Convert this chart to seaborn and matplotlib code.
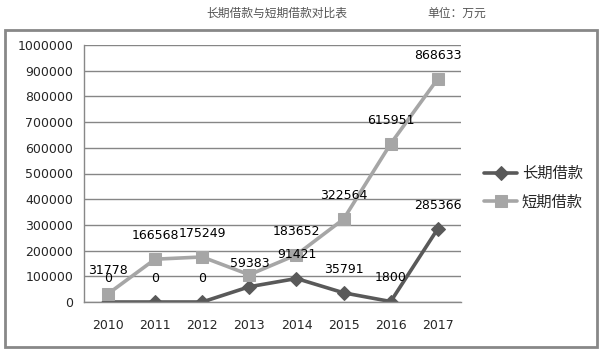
import numpy as np
import pandas as pd
import seaborn as sns
import matplotlib.pyplot as plt
from matplotlib.patches import Rectangle

# 数据
years = ['2010', '2011', '2012', '2013', '2014', '2015', '2016', '2017']
long_loan = [0, 0, 0, 59383, 91421, 35791, 1800, 285366]
short_loan = [31778, 166568, 175249, 106000, 183652, 322564, 615951, 868633]
short_show_label = [True, True, True, False, True, True, True, True]

sns.set_style('white')
plt.rcParams['font.family'] = ['DejaVu Sans', 'Noto Sans CJK SC']

fig = plt.figure(figsize=(6.08, 3.52), dpi=100)
ax = fig.add_axes([84.4 / 608, 50 / 352, 377 / 608, 257 / 352])

pos = np.arange(len(years))
df = pd.DataFrame({'pos': pos, '长期借款': long_loan, '短期借款': short_loan})

sns.lineplot(data=df, x='pos', y='长期借款', ax=ax, color='#595959', lw=2.6,
             marker='D', markersize=7, markeredgecolor='#595959', label='长期借款')
sns.lineplot(data=df, x='pos', y='短期借款', ax=ax, color='#A6A6A6', lw=2.6,
             marker='s', markersize=9, markeredgecolor='#A6A6A6', label='短期借款')

# 数据标签
for x, v in zip(pos, long_loan):
    ax.annotate(str(v), (x, v), xytext=(0, 17), textcoords='offset points',
                ha='center', va='center', fontsize=9, color='black')
for x, v, s in zip(pos, short_loan, short_show_label):
    if s:
        ax.annotate(str(v), (x, v), xytext=(0, 17), textcoords='offset points',
                    ha='center', va='center', fontsize=9, color='black')

ax.set_xlim(-0.5, len(years) - 0.5)
ax.set_ylim(0, 1000000)
ax.set_yticks(np.arange(0, 1000001, 100000))
ax.set_yticklabels([str(int(t)) for t in np.arange(0, 1000001, 100000)])
ax.set_xticks(pos)
ax.set_xticklabels(years)
ax.set_xticks(np.arange(-0.5, len(years)), minor=True)
ax.tick_params(axis='x', which='major', length=0, labelsize=9, pad=12)
ax.tick_params(axis='x', which='minor', length=5, color='#888888', width=1, direction='out')
ax.tick_params(axis='y', length=5, color='#888888', width=1, labelsize=9, pad=3)
ax.set_xlabel('')
ax.set_ylabel('')
ax.yaxis.grid(True, color='#868686', lw=1)
ax.set_axisbelow(True)
for sp in ['top', 'right']:
    ax.spines[sp].set_visible(False)
for sp in ['left', 'bottom']:
    ax.spines[sp].set_color('#888888')
    ax.spines[sp].set_linewidth(1)

leg = ax.legend(loc='center left', bbox_to_anchor=(470 / 608, 1 - 188 / 352),
                bbox_transform=fig.transFigure, frameon=False,
                prop={'family': 'Noto Sans CJK SC', 'size': 11},
                handlelength=2.2, handletextpad=0.3, labelspacing=0.75)

# 标题与单位
fig.text(277 / 608, 1 - 13 / 352, '长期借款与短期借款对比表', ha='center', va='center',
         fontsize=8.5, color='#555555', family='Noto Sans CJK SC')
fig.text(457 / 608, 1 - 13 / 352, '单位：万元', ha='center', va='center',
         fontsize=8.5, color='#555555', family='Noto Sans CJK SC')

# 外框
fig.patches.append(Rectangle((5 / 608, 5 / 352), 592 / 608, 317 / 352,
                             transform=fig.transFigure, fill=False,
                             edgecolor='#888888', lw=2))

fig.savefig('out.png', dpi=100)
